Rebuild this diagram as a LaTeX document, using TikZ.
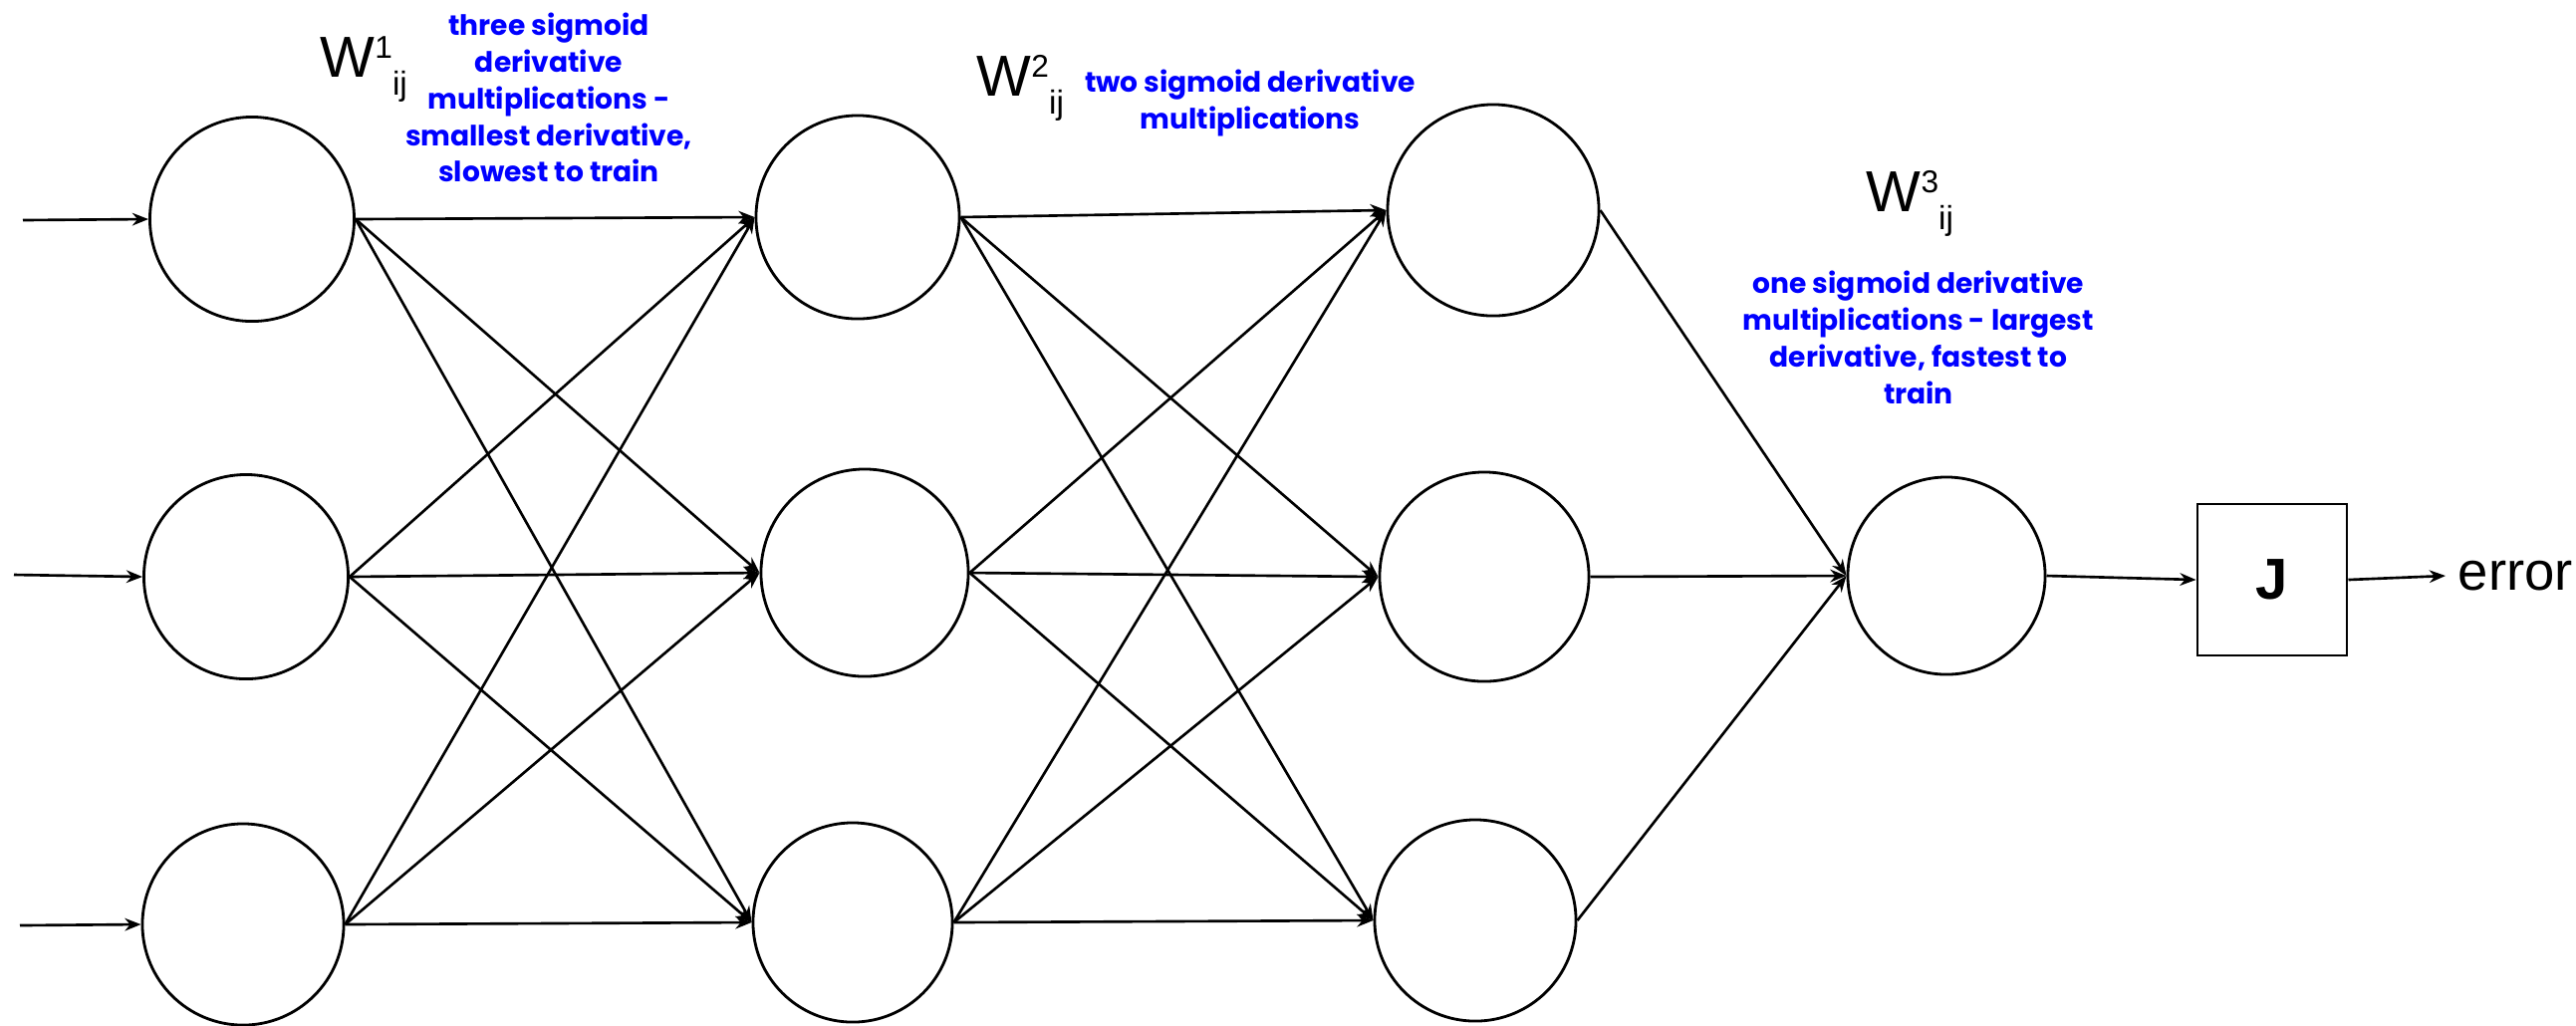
\documentclass[tikz,border=0pt]{standalone}
\usepackage{fontspec}
\setmainfont{Liberation Sans}
\newfontfamily\bluefont{Poppins}
\usetikzlibrary{arrows.meta}
\newcommand{\wlabel}[1]{{\fontsize{16.5}{19}\selectfont W}\raisebox{5.2pt}{\fontsize{9}{10}\selectfont #1}\raisebox{-5.3pt}{\fontsize{9.5}{11}\selectfont ij}}
\begin{document}
\begin{tikzpicture}[x=0.01cm,y=-0.01cm,
  >={Stealth[length=4.6pt,width=3.6pt]},
  neuron/.style={circle, draw, line width=0.8pt, inner sep=0pt},
  conn/.style={->, line width=0.75pt},
  note/.style={text=blue, font=\bluefont\bfseries\fontsize{8}{10.5}\selectfont, align=center, inner sep=0pt, anchor=north},
  wlab/.style={anchor=base west, inner sep=0pt}]
\useasboundingbox (0,0) rectangle (2586,1029);
\fill[white] (0,0) rectangle (2586,1029);
% layer 1
\node[neuron, minimum size=2.05cm] (a1) at (253,220) {};
\node[neuron, minimum size=2.05cm] (a2) at (247,579) {};
\node[neuron, minimum size=2.02cm] (a3) at (244,928) {};
% layer 2
\node[neuron, minimum size=2.04cm] (b1) at (861,218) {};
\node[neuron, minimum size=2.08cm] (b2) at (868,575) {};
\node[neuron, minimum size=2.00cm] (b3) at (856,926) {};
% layer 3
\node[neuron, minimum size=2.12cm] (c1) at (1499,211) {};
\node[neuron, minimum size=2.10cm] (c2) at (1490,579) {};
\node[neuron, minimum size=2.02cm] (c3) at (1481,924) {};
% output
\node[neuron, minimum size=1.98cm] (o) at (1954,578) {};
% cost box
\node[draw, line width=0.8pt, minimum width=1.5cm, minimum height=1.52cm, inner sep=0pt,
  font=\bfseries\fontsize{16.5}{20}\selectfont] (J) at (2281,582) {J};
\node[anchor=west, inner xsep=3.4pt, inner ysep=0pt, font=\fontsize{15.5}{18}\selectfont] (err) at (2455,578) {error};
% inputs
\coordinate (in1) at (23,221);
\coordinate (in2) at (14,577);
\coordinate (in3) at (20,929);
\foreach \i in {1,2,3} {\draw[conn] (in\i) -- (a\i.west);}
\foreach \i in {1,2,3} {
  \foreach \j in {1,2,3} {
    \draw[conn] (a\i.east) -- (b\j.west);
    \draw[conn] (b\i.east) -- (c\j.west);
  }
  \draw[conn] (c\i.east) -- (o.west);
}
\draw[conn] (o.east) -- (J.west);
\draw[conn] (J.east) -- (err.west);
% labels
\node[wlab] (w1) at (321,77) {\wlabel{1}};
\node[wlab] (w2) at (980,96) {\wlabel{2}};
\node[wlab] (w3) at (1873,212) {\wlabel{3}};
\node[note] (n1) at (551,12) {three sigmoid\\derivative\\multiplications -\\smallest derivative,\\slowest to train};
\node[note] (n2) at (1255,69) {two sigmoid derivative\\multiplications};
\node[note] (n3) at (1926,271) {one sigmoid derivative\\multiplications - largest\\derivative, fastest to\\train};
\end{tikzpicture}
\end{document}
